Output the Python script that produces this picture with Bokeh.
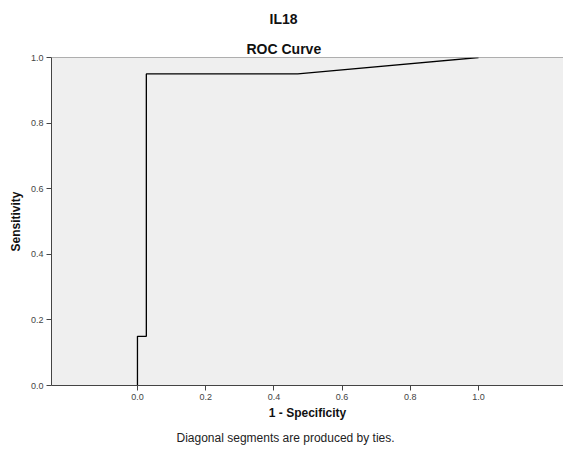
from bokeh.plotting import figure
from bokeh.models import Title, Span, Range1d, FixedTicker, CustomJSTickFormatter
from bokeh.embed import file_html
from bokeh.resources import INLINE

fpr = [0.0, 0.0, 0.026, 0.026, 0.47, 1.0]
tpr = [0.0, 0.15, 0.15, 0.95, 0.95, 1.0]
ticks = [0.0, 0.2, 0.4, 0.6, 0.8, 1.0]
main_title = "IL18"
sub_title = "ROC Curve"
footnote = "Diagonal segments are produced by ties."

FONT = "Liberation Sans"

p = figure(width=563, height=453, output_backend="svg", toolbar_location=None,
           x_range=Range1d(-0.252, 1.249), y_range=Range1d(0, 1),
           min_border_left=51, min_border_right=0, min_border_top=57, min_border_bottom=68)
p.background_fill_color = "#efefef"
p.border_fill_color = "white"
p.outline_line_color = None
p.grid.visible = False

p.add_layout(Title(text=sub_title, align="left", offset=195, text_font=FONT, text_font_size="14px",
                   text_font_style="bold", text_color="#111111", standoff=2), "above")
p.add_layout(Title(text=main_title, align="left", offset=218, text_font=FONT, text_font_size="14px",
                   text_font_style="bold", text_color="#111111", standoff=18,
                   vertical_align="top"), "above")
p.add_layout(Title(text=footnote, align="left", offset=125, text_font=FONT,
                   text_font_size="12px", text_font_style="normal", text_color="#222222",
                   standoff=12), "below")

p.add_layout(Span(location=1.0, dimension="width", line_color="#666666", line_width=1))

fmt = CustomJSTickFormatter(code="return tick.toFixed(1);")
for ax in (p.xaxis[0], p.yaxis[0]):
    ax.ticker = FixedTicker(ticks=ticks)
    ax.formatter = fmt
    ax.minor_tick_line_color = None
    ax.major_tick_in = 0
    ax.major_tick_out = 5
    ax.major_label_standoff = 3
    ax.major_label_text_font = FONT
    ax.major_label_text_font_size = "9px"
    ax.major_label_text_color = "#444444"
    ax.axis_label_text_font = FONT
    ax.axis_label_text_font_size = "12px"
    ax.axis_label_text_font_style = "bold"
    ax.axis_label_text_color = "#111111"
    ax.axis_label_standoff = 3
    ax.axis_line_color = "#444444"
    ax.major_tick_line_color = "#444444"
p.yaxis[0].axis_label_standoff = 5

p.xaxis.axis_label = "1 - Specificity"
p.yaxis.axis_label = "Sensitivity"

p.line(fpr, tpr, line_color="black", line_width=1.3)

open("out.html", "w").write(file_html(p, INLINE))
